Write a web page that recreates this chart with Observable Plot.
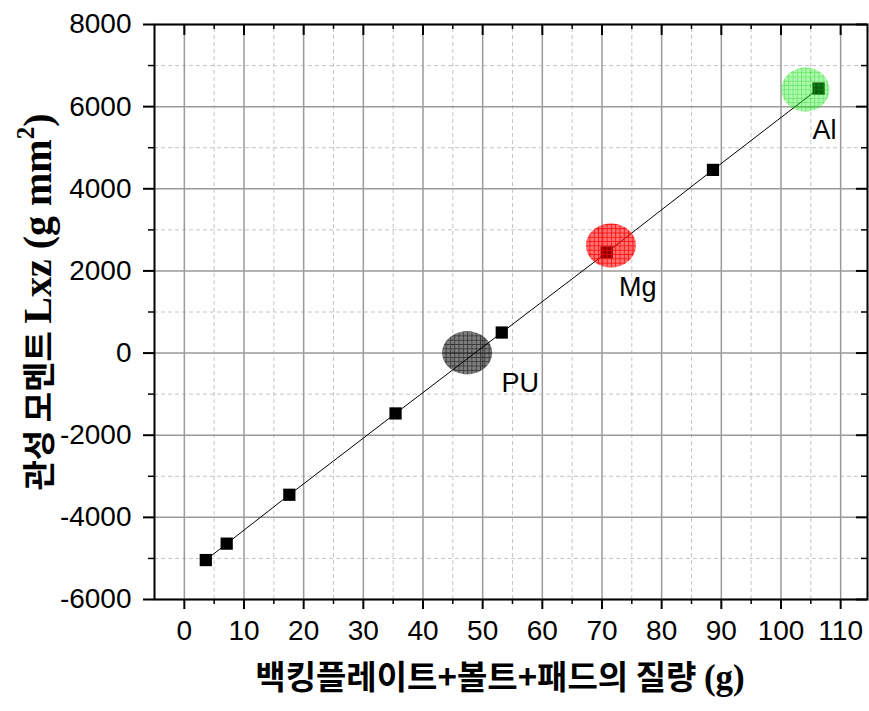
<!DOCTYPE html>
<html>
<head>
<meta charset="utf-8">
<script src="https://cdn.jsdelivr.net/npm/d3@7"></script>
<script src="https://cdn.jsdelivr.net/npm/@observablehq/plot@0.6"></script>
<style>
  html, body { margin: 0; padding: 0; background: #fff; }
  #chart svg { display: block; }
</style>
</head>
<body>
<div id="chart"></div>
<script>
// ---- data ----
const massG = [3.6, 7.1, 17.6, 35.4, 53.2, 70.8, 88.6, 106.3];
const inertiaLxz = [-5040, -4640, -3450, -1470, 500, 2450, 4460, 6440];

const materials = ["PU", "Mg", "Al"];
const materialMass = [47.4, 71.5, 104.1];
const materialLxz = [10, 2620, 6420];
const materialLabelX = [56.3, 76.0, 107.3];
const materialLabelY = [-740, 1600, 5420];

const xMajorTicks = [0, 10, 20, 30, 40, 50, 60, 70, 80, 90, 100, 110];
const xMinorTicks = [5, 15, 25, 35, 45, 55, 65, 75, 85, 95, 105];
const yMajorTicks = [-6000, -4000, -2000, 0, 2000, 4000, 6000, 8000];
const yMinorTicks = [-5000, -3000, -1000, 1000, 3000, 5000, 7000];

const xTitleKo1 = "백킹플레이트+볼트+패드의 질량 ";
const xTitleUnit = "(g)";
const yTitleKo = "관성 모멘트 ";
const yTitleLatin = "Lxz (g mm";
const yTitleSup = "2";
const yTitleEnd = ")";

// ---- derived tables ----
const points = massG.map((m, i) => ({mass: m, lxz: inertiaLxz[i]}));
const mats = materials.map((name, i) => ({
  name, mass: materialMass[i], lxz: materialLxz[i],
  lx: materialLabelX[i], ly: materialLabelY[i]
}));

const X0 = -5, X1 = 114.5, Y0 = -6000, Y1 = 8000;

function ellipseSymbol(rx, ry) {
  const k = 0.5523;
  return {
    draw(ctx) {
      ctx.moveTo(rx, 0);
      ctx.bezierCurveTo(rx, k * ry, k * rx, ry, 0, ry);
      ctx.bezierCurveTo(-k * rx, ry, -rx, k * ry, -rx, 0);
      ctx.bezierCurveTo(-rx, -k * ry, -k * rx, -ry, 0, -ry);
      ctx.bezierCurveTo(k * rx, -ry, rx, -k * ry, rx, 0);
      ctx.closePath();
    }
  };
}
const ellipseShapes = {PU: ellipseSymbol(25, 21.5), Mg: ellipseSymbol(25, 22), Al: ellipseSymbol(24, 22)};

const font = "'Liberation Sans', Arial, sans-serif";

const plot = Plot.plot({
  width: 869,
  height: 711,
  marginLeft: 154,
  marginRight: 2,
  marginTop: 24,
  marginBottom: 112,
  style: {fontFamily: font, background: "white"},
  x: {domain: [X0, X1], axis: null},
  y: {domain: [Y0, Y1], axis: null},
  marks: [
    // minor grid
    Plot.ruleX(xMinorTicks, {x: d => d, y1: Y0, y2: Y1, stroke: "#c4c4c4", strokeWidth: 1, strokeDasharray: "4,3"}),
    Plot.ruleY(yMinorTicks, {y: d => d, x1: X0, x2: X1, stroke: "#c4c4c4", strokeWidth: 1, strokeDasharray: "4,3"}),
    // major grid
    Plot.ruleX(xMajorTicks, {x: d => d, y1: Y0, y2: Y1, stroke: "#9a9a9a", strokeWidth: 1.5}),
    Plot.ruleY(yMajorTicks, {y: d => d, x1: X0, x2: X1, stroke: "#9a9a9a", strokeWidth: 1.5}),
    // data line and markers
    Plot.line(points, {x: "mass", y: "lxz", stroke: "black", strokeWidth: 1}),
    Plot.dot(points, {x: "mass", y: "lxz", symbol: "square", r: 6.9, fill: "black", stroke: "none"}),
    // material ellipses
    ...mats.map(m => Plot.dot([m], {x: "mass", y: "lxz", symbol: ellipseShapes[m.name], r: 20, fill: `url(#pat${m.name})`, stroke: "none"})),
    Plot.text(mats, {x: "lx", y: "ly", text: "name", fontSize: 27, fill: "black"}),
    // frame
    Plot.frame({stroke: "black", strokeWidth: 2}),
    // bottom ticks (outward)
    Plot.ruleX(xMajorTicks, {x: d => d, y1: Y0, y2: Y0, insetBottom: -10, stroke: "black", strokeWidth: 2}),
    Plot.ruleX(xMinorTicks, {x: d => d, y1: Y0, y2: Y0, insetBottom: -5, stroke: "black", strokeWidth: 1.5}),
    // top ticks (inward)
    Plot.ruleX(xMajorTicks, {x: d => d, y1: Y1, y2: Y1, insetBottom: -11, stroke: "black", strokeWidth: 2}),
    Plot.ruleX(xMinorTicks, {x: d => d, y1: Y1, y2: Y1, insetBottom: -5, stroke: "black", strokeWidth: 1.5}),
    // left ticks (outward)
    Plot.ruleY(yMajorTicks, {y: d => d, x1: X0, x2: X0, insetLeft: -11, stroke: "black", strokeWidth: 2}),
    Plot.ruleY(yMinorTicks, {y: d => d, x1: X0, x2: X0, insetLeft: -6, stroke: "black", strokeWidth: 1.5}),
    // right ticks (inward)
    Plot.ruleY(yMajorTicks, {y: d => d, x1: X1, x2: X1, insetRight: 11, stroke: "black", strokeWidth: 2}),
    Plot.ruleY(yMinorTicks, {y: d => d, x1: X1, x2: X1, insetRight: 6, stroke: "black", strokeWidth: 1.5}),
    // tick labels
    Plot.text(xMajorTicks, {x: d => d, y: Y0, dy: 32, text: d => String(d), fontSize: 28, fill: "black"}),
    Plot.text(yMajorTicks, {x: X0, y: d => d, dx: -23, textAnchor: "end", text: d => String(d), fontSize: 28, fill: "black"})
  ]
});

document.getElementById("chart").appendChild(plot);

const svg = d3.select(plot);
const defs = svg.insert("defs", ":first-child");
const patterns = [
  {id: "patPU", bg: "rgba(0,0,0,0.5)", line: "rgba(0,0,0,0.55)"},
  {id: "patMg", bg: "rgba(255,0,0,0.55)", line: "rgba(255,0,0,0.85)"},
  {id: "patAl", bg: "rgba(40,240,40,0.38)", line: "rgba(0,200,0,0.35)"}
];
const s = 4.3;
patterns.forEach(p => {
  const pat = defs.append("pattern").attr("id", p.id).attr("patternUnits", "userSpaceOnUse")
    .attr("width", s).attr("height", s);
  pat.append("rect").attr("width", s).attr("height", s).attr("fill", p.bg);
  pat.append("path").attr("d", `M0,0.5H${s}M0.5,0V${s}`).attr("stroke", p.line).attr("stroke-width", 0.9).attr("fill", "none");
});

// axis titles
const serif = "'Liberation Serif', 'Times New Roman', serif";
const yt = svg.append("text")
  .attr("transform", "translate(51,302) rotate(-90)")
  .attr("text-anchor", "middle")
  .attr("font-weight", "bold")
  .attr("fill", "black");
yt.append("tspan").attr("font-family", "'Noto Sans CJK KR', sans-serif").attr("font-size", 33).text(yTitleKo);
yt.append("tspan").attr("font-family", serif).attr("font-size", 40).text(yTitleLatin);
yt.append("tspan").attr("font-family", serif).attr("font-size", 25).attr("dy", -17).text(yTitleSup);
yt.append("tspan").attr("font-family", serif).attr("font-size", 40).attr("dy", 17).text(yTitleEnd);

const xt = svg.append("text")
  .attr("x", 500).attr("y", 689)
  .attr("text-anchor", "middle")
  .attr("font-weight", "bold")
  .attr("fill", "black");
xt.append("tspan").attr("font-family", "'Noto Sans CJK KR', sans-serif").attr("font-size", 33).text(xTitleKo1);
xt.append("tspan").attr("font-family", serif).attr("font-size", 35).text(xTitleUnit);
</script>
</body>
</html>
